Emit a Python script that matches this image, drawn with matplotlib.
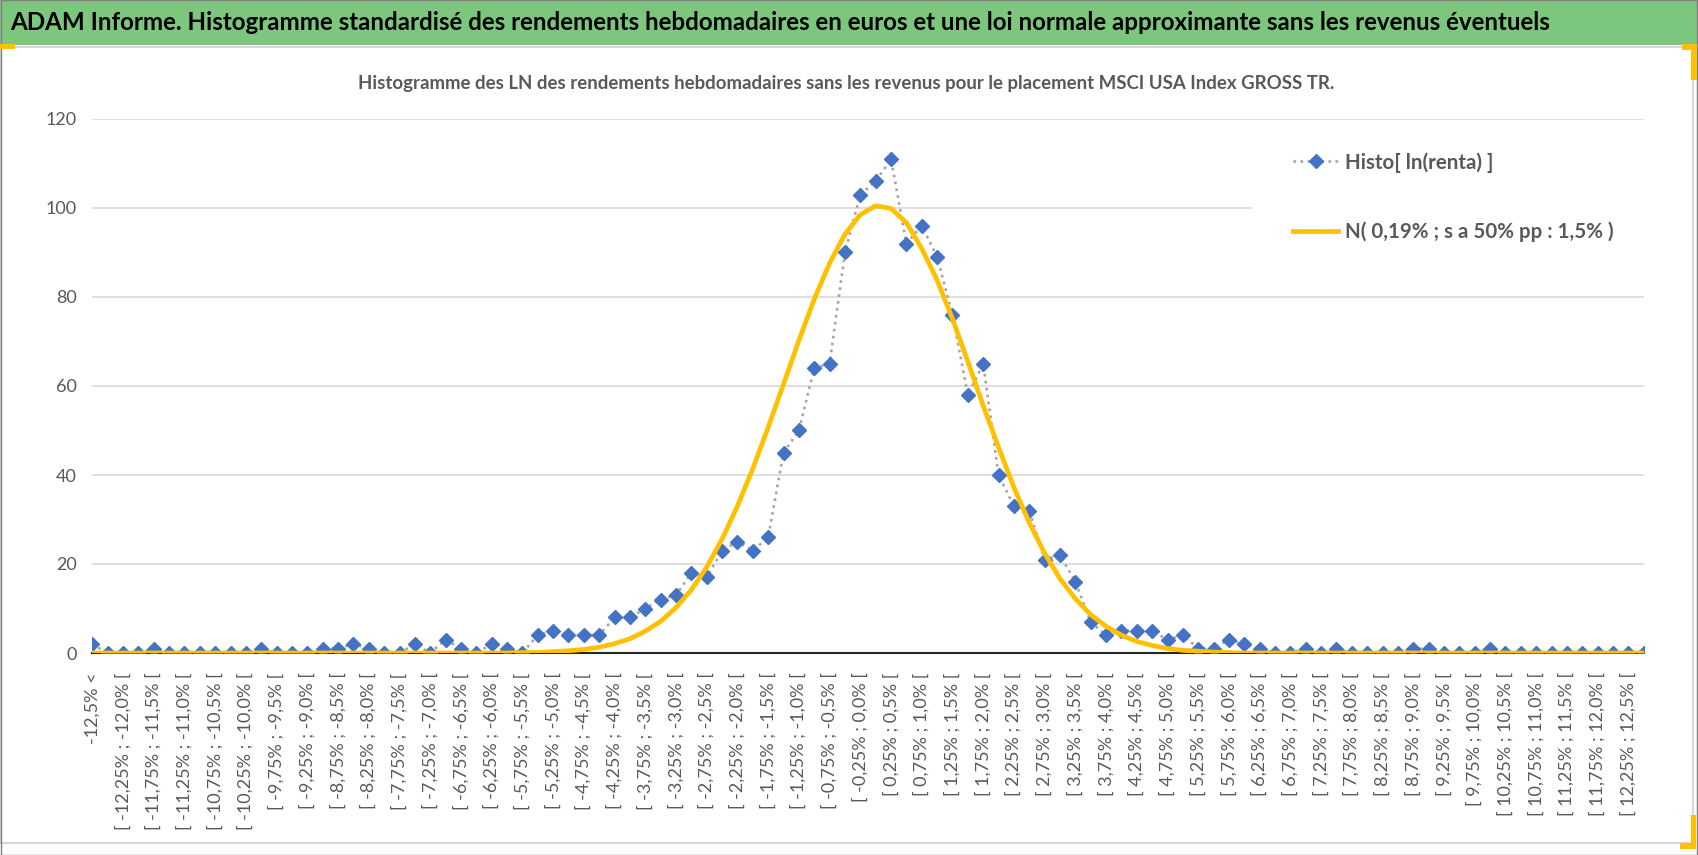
import numpy as np
import matplotlib
matplotlib.use('Agg')
import matplotlib.pyplot as plt
from matplotlib.patches import Rectangle

plt.rcParams['font.family'] = ['Lato', 'DejaVu Sans']

W, H = 1698, 855

# weekly log-return histogram counts, one per category (102 categories)
counts = [2, 0, 0, 0, 1, 0, 0, 0, 0, 0, 0, 1, 0, 0, 0, 1, 1, 2,
          1, 0, 0, 2, 0, 3, 1, 0, 2, 1, 0,
          4, 5, 4, 4, 4, 8, 8, 10, 12, 13, 18, 17, 23, 25, 23, 26,
          45, 50, 64, 65, 90, 103, 106, 111, 92, 96, 89, 76, 58, 65, 40, 33, 32,
          21, 22, 16, 7, 4, 5, 5, 5, 3, 4, 1, 1, 3, 2, 1, 0, 0,
          1, 0, 1, 0, 0, 0, 0, 1, 1, 0, 0, 0, 1,
          0, 0, 0, 0, 0, 0, 0, 0, 0, 0]

# approximating normal curve
normal = [0] * 28 + [
    0.1, 0.1, 0.3, 0.5, 0.8, 1.3, 2.1, 3.2, 4.9, 7.1, 10.2, 14.2, 19.3, 25.6,
    33.0, 41.4, 50.7, 60.4, 70.2, 79.5, 87.6, 94.1, 98.5, 100.5, 99.9, 96.7,
    90.9, 83.8, 75.1, 65.5, 55.6, 46.2, 37.2, 29.3, 22.4, 16.7, 12.2, 8.6,
    6.0, 4.0, 2.6, 1.7, 1.0, 0.6, 0.4, 0.2, 0.1] + [0] * 27

edges = np.arange(-12.5, 12.5001, 0.25)


def pct(v):
    s = f"{v + 0.0:.2f}"
    if s.endswith('0'):
        s = s[:-1]
    return s.replace('.', ',') + '%'


labels = (['-12,5% <']
          + [f'[ {pct(a)} ; {pct(b)} [' for a, b in zip(edges[:-1], edges[1:])]
          + ['12,5% <='])

title = ("ADAM Informe. Histogramme standardisé des rendements hebdomadaires "
         "en euros et une loi normale approximante sans les revenus éventuels")
subtitle = ("Histogramme des LN des rendements hebdomadaires sans les revenus "
            "pour le placement MSCI USA Index GROSS TR.")
name_histo = 'Histo[ ln(renta) ]'
name_norm = 'N( 0,19% ; s a 50% pp : 1,5% )'

fig = plt.figure(figsize=(W / 100, H / 100), dpi=100)

# screenshot frame: banner, chart area border, selection handles
bg = fig.add_axes([0, 0, 1, 1])
bg.set_xlim(0, W)
bg.set_ylim(H, 0)
bg.axis('off')
bg.add_patch(Rectangle((0, 0), W, 45, fc='#7DC67E', ec='none'))
bg.add_patch(Rectangle((1, 47), 1692, 796, fill=False, ec='#D0D0D0', lw=1.2))
bg.add_patch(Rectangle((0.5, 0.5), W - 1, H - 1, fill=False, ec='#808080', lw=1))
orange = '#FFC000'
for r in [(0, 44, 15, 5), (1682, 44, 15, 6), (1691, 44, 6, 36),
          (1691, 815, 5, 34), (1680, 843, 16, 6)]:
    bg.add_patch(Rectangle(r[:2], r[2], r[3], fc=orange, ec='none'))
t_title = bg.text(10, 23, title, ha='left', va='center', fontsize=17,
                  fontweight='bold', color='black')
t_sub = bg.text(846, 84, subtitle, ha='center', va='center', fontsize=13,
                fontweight='bold', color='#595959')

# plot area
x0, x1, y0, y1 = 92.3, 1643.7, 119, 653
ax = fig.add_axes([x0 / W, 1 - y1 / H, (x1 - x0) / W, (y1 - y0) / H])
x = np.arange(len(counts))

ax.plot(x, counts, color='#A5A5A5', ls=':', lw=1.9, marker='D', ms=6.9,
        mfc='#4472C4', mec='#4472C4', label=name_histo, zorder=3)
ax.plot(x, normal, color=orange, lw=3.4, label=name_norm, zorder=4)

ax.set_xlim(0, len(counts) - 1)
ax.set_ylim(0, 120)
ax.set_yticks(range(0, 121, 20))
ax.set_xticks(x[::2], [labels[i] for i in x[::2]], rotation=90)
ax.set_xticks(x[::4], minor=True)
ax.tick_params(axis='x', which='major', length=0, pad=14, labelsize=13,
               labelcolor='#595959')
ax.tick_params(axis='x', which='minor', length=12, width=1.2,
               direction='inout', color='#404040')
ax.tick_params(axis='y', length=0, pad=11, labelsize=13, labelcolor='#595959')
ax.grid(True, axis='x', which='minor', color='#D9D9D9', lw=1.2)
ax.grid(True, axis='y', color='#D9D9D9', lw=1.2)
for s in ['left', 'right', 'top']:
    ax.spines[s].set_visible(False)
ax.spines['bottom'].set_color('#262626')
ax.spines['bottom'].set_linewidth(1.5)

# legend area (white box over the gridlines)
lx0 = (1252 - x0) / (x1 - x0)
ly0 = (y1 - 278) / (y1 - y0)
ax.add_patch(Rectangle((lx0, ly0), 1 - lx0, (278 - 125) / (y1 - y0),
                       transform=ax.transAxes, fc='white', ec='none', zorder=2))
leg = ax.legend(loc='upper left',
                bbox_to_anchor=((1293 - x0) / (x1 - x0), (y1 - 152) / (y1 - y0)),
                frameon=False, borderaxespad=0, borderpad=0,
                handlelength=2.2, handletextpad=0.35, labelspacing=2.4,
                prop={'size': 14.8, 'weight': 'bold'})
for t in leg.get_texts():
    t.set_color('#595959')


def fit(t, target):
    fig.canvas.draw()
    w = t.get_window_extent().width
    t.set_fontsize(t.get_fontsize() * target / w)


fit(t_title, 1549)
fit(t_sub, 977)

fig.savefig('out.png', dpi=100)
